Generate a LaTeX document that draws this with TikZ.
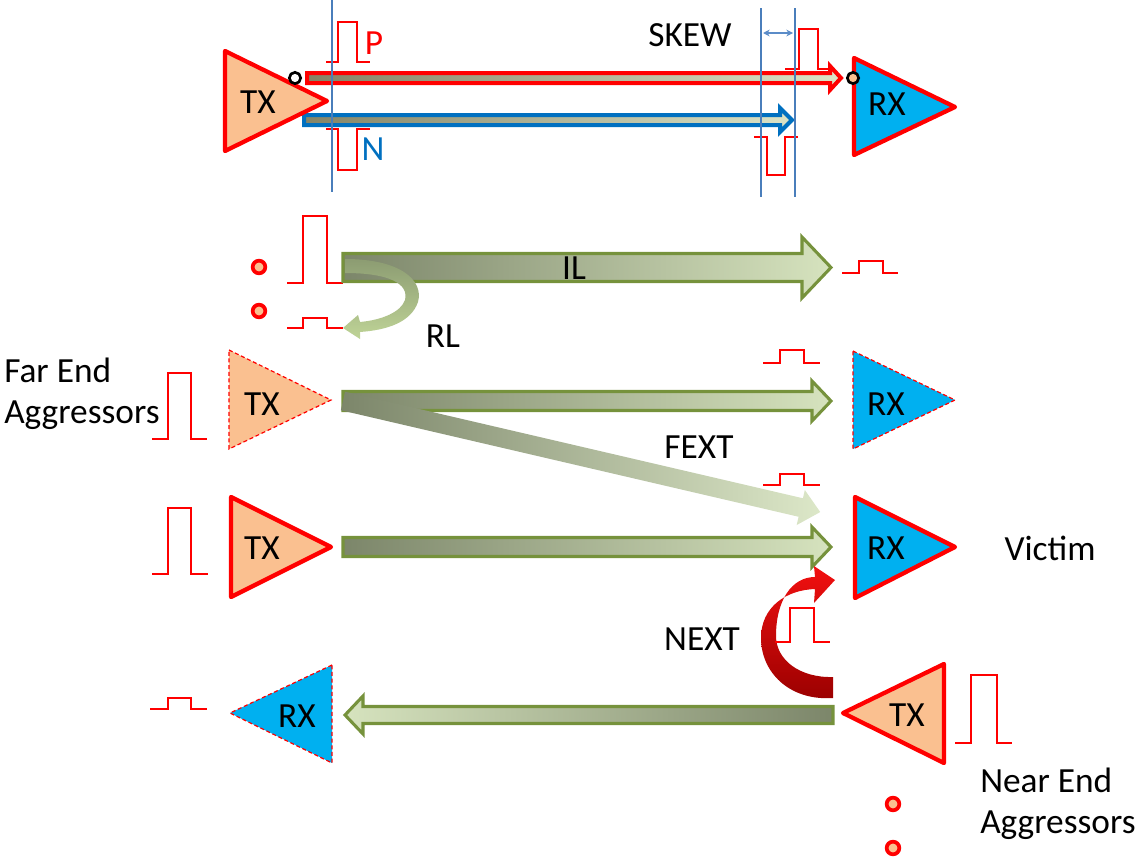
\documentclass[tikz,border=0pt]{standalone}
\usepackage{fontspec}
\setmainfont{Carlito}
\usetikzlibrary{arrows.meta}

\definecolor{peach}{HTML}{FAC090}
\definecolor{rxblue}{HTML}{00B0F0}
\definecolor{olivegreen}{HTML}{76923C}
\definecolor{gdark}{HTML}{7C866A}
\definecolor{glight}{HTML}{D6E3BE}
\definecolor{wdark}{HTML}{858466}
\definecolor{wlight}{HTML}{DCE3C6}
\definecolor{nblue}{HTML}{0070C0}
\definecolor{guide}{HTML}{4A7EBB}
\definecolor{skewblue}{HTML}{5B8CC8}
\definecolor{rldark}{HTML}{8C9C72}
\definecolor{rllight}{HTML}{BFD497}
\definecolor{nextdark}{HTML}{9A0000}
\definecolor{nextlight}{HTML}{F21010}

\begin{document}
\begin{tikzpicture}[x=0.75pt,y=-0.75pt,
  lbl/.style={font=\fontsize{26.5}{31}\selectfont, inner sep=0pt},
  txtri/.style={draw=red, line width=3.2pt, fill=peach, line join=round},
  rxtri/.style={draw=red, line width=3.2pt, fill=rxblue, line join=round},
  dashtx/.style={draw=red, line width=0.9pt, dash pattern=on 3pt off 2pt, fill=peach},
  dashrx/.style={draw=red, line width=0.9pt, dash pattern=on 3pt off 2pt, fill=rxblue},
  pulse/.style={draw=red, line width=1pt},
  gblock/.style={draw=olivegreen, line width=2.3pt, line join=miter},
  reddot/.style={circle, draw=red, line width=2.8pt, fill=peach, inner sep=0pt, minimum size=9.5pt},
  pindot/.style={circle, draw=black, line width=2pt, inner sep=0pt, minimum size=8.5pt},
  guideline/.style={draw=guide, line width=0.9pt}]
\useasboundingbox (0,0) rectangle (1140,860);

% ---------------- differential pair with skew ----------------
\path[draw=red, line width=3pt, left color=wdark, right color=wlight, line join=miter]
  (307,73) -- (830,73) -- (830,66) -- (841,78) -- (830,90) -- (830,83) -- (307,83) -- cycle;
\path[draw=nblue, line width=3pt, left color=wdark, right color=wlight, line join=miter]
  (304,115) -- (780,115) -- (780,108) -- (792,120) -- (780,132) -- (780,125) -- (304,125) -- cycle;

\draw[txtri] (225,51) -- (327,101) -- (225,151) -- cycle;
\node[lbl] (tx0) at (258,102) {TX};
\draw[rxtri] (854,58) -- (955,107) -- (854,155) -- cycle;
\node[lbl] (rx0) at (887,104) {RX};

\node[pindot, fill=white] (pin0) at (295,78) {};
\node[pindot, fill=peach] (pin1) at (853,78) {};

\draw[pulse] (326,62) -- (338,62) -- (338,22) -- (357,22) -- (357,62) -- (370,62);
\draw[pulse] (326,129) -- (338,129) -- (338,170) -- (357,170) -- (357,129) -- (370,129);
\draw[pulse] (785,69) -- (799,69) -- (799,29) -- (818,29) -- (818,69) -- (830,69);
\draw[pulse] (754,137) -- (767,137) -- (767,175) -- (785,175) -- (785,137) -- (798,137);

\draw[guideline] (332,0) -- (332,192);
\draw[guideline] (761,8) -- (761,197);
\draw[guideline] (795,8) -- (795,197);
\coordinate (skA) at (763,33);
\coordinate (skB) at (793,33);
\draw[draw=skewblue, line width=1pt, {Stealth[length=5pt,width=5pt]}-{Stealth[length=5pt,width=5pt]}] (skA) -- (skB);

\node[lbl, text=red] (plbl) at (374,43) {P};
\node[lbl, text=nblue] (nlbl) at (373,149) {N};
\node[lbl] (skew) at (690,35) {SKEW};

% ---------------- insertion / return loss ----------------
\node[reddot] (d1) at (259,267) {};
\node[reddot] (d2) at (259,311) {};
\draw[pulse] (287,283) -- (303,283) -- (303,216) -- (327,216) -- (327,283) -- (343,283);
\draw[pulse] (287,328) -- (303,328) -- (303,318) -- (327,318) -- (327,328) -- (343,328);
\draw[pulse] (842,273) -- (859,273) -- (859,261) -- (883,261) -- (883,273) -- (898,273);

\path[gblock, left color=gdark, right color=glight]
  (343,253.5) -- (802,253.5) -- (802,237) -- (831,267.5) -- (802,298) -- (802,281.5) -- (343,281.5) -- cycle;
\path[top color=rldark, bottom color=rllight]
  (345,259) .. controls (400,259) and (424,280) .. (418,302)
  .. controls (411,322) and (388,330) .. (360,332)
  -- (360,339) -- (343,328) -- (358,315) -- (360,322)
  .. controls (382,320) and (401,312) .. (405,300)
  .. controls (409,284) and (390,273) .. (345,273) -- cycle;
\node[lbl] (il) at (574,268) {IL};
\node[lbl] (rl) at (443,336) {RL};

% ---------------- far end aggressor ----------------
\node[lbl, align=left, anchor=west] (fea) at (4,394) {Far End\\Aggressors};
\draw[pulse] (152,439) -- (168,439) -- (168,373) -- (191,373) -- (191,439) -- (207,439);
\draw[dashtx] (229,350) -- (331,400) -- (229,449) -- cycle;
\node[lbl] (tx1) at (262,404) {TX};
\draw[dashrx] (853,351) -- (955,400) -- (853,449) -- cycle;
\node[lbl] (rx1) at (886,404) {RX};
\draw[pulse] (763,363) -- (780,363) -- (780,350) -- (804,350) -- (804,363) -- (820,363);

\path[gblock, left color=gdark, right color=glight]
  (343,391.5) -- (812,391.5) -- (812,381) -- (831,401) -- (812,421) -- (812,410.5) -- (343,410.5) -- cycle;
\begin{scope}[shift={(343,401)}, rotate=-13.1]
  \path[left color=gdark, right color=glight!85!white]
    (0,-9.5) -- (470,-9.5) -- (470,-18) -- (490,0) -- (470,18) -- (470,9.5) -- (0,9.5) -- cycle;
\end{scope}
\node[lbl] (fext) at (699,447) {FEXT};

% ---------------- victim ----------------
\draw[pulse] (152,574) -- (168,574) -- (168,508) -- (191,508) -- (191,574) -- (208,574);
\draw[pulse] (763,485) -- (780,485) -- (780,474) -- (804,474) -- (804,485) -- (820,485);
\draw[txtri] (231,497) -- (331,547) -- (231,597) -- cycle;
\node[lbl] (tx2) at (262,548) {TX};
\draw[rxtri] (855,497) -- (955,547) -- (855,598) -- cycle;
\node[lbl] (rx2) at (886,548) {RX};
\path[gblock, left color=gdark, right color=glight]
  (343,537.5) -- (812,537.5) -- (812,527) -- (831,547) -- (812,567) -- (812,556.5) -- (343,556.5) -- cycle;
\node[lbl] (victim) at (1050,548) {Victim};

% ---------------- near end aggressor ----------------
\path[top color=nextlight, bottom color=nextdark]
  (833,698) .. controls (789,701) and (761,672) .. (761,638)
  .. controls (761,607) and (786,590) .. (815,589)
  -- (814,603) -- (835,580) -- (814,566) -- (815,577)
  .. controls (792,577) and (776,600) .. (776,636)
  .. controls (776,660) and (800,678) .. (833,677) -- cycle;
\node[lbl] (next) at (702,639) {NEXT};
\draw[pulse] (775,642) -- (790,642) -- (790,608) -- (814,608) -- (814,642) -- (830,642);

\path[gblock, left color=glight, right color=gdark]
  (833,706.5) -- (363,706.5) -- (363,696) -- (345,715) -- (363,734) -- (363,723.5) -- (833,723.5) -- cycle;
\draw[dashrx] (332,665) -- (230,713) -- (332,763) -- cycle;
\node[lbl] (rx3) at (297,716) {RX};
\draw[pulse] (150,709) -- (168,709) -- (168,698) -- (191,698) -- (191,709) -- (207,709);
\draw[txtri] (944,664) -- (843,713) -- (944,763) -- cycle;
\node[lbl] (tx3) at (907,715) {TX};
\draw[pulse] (955,743) -- (971,743) -- (971,675) -- (997,675) -- (997,743) -- (1012,743);

\node[lbl, align=left, anchor=west] (nea) at (980,804) {Near End\\Aggressors};
\node[reddot] (d3) at (893,804) {};
\node[reddot] (d4) at (893,848) {};
\end{tikzpicture}
\end{document}
